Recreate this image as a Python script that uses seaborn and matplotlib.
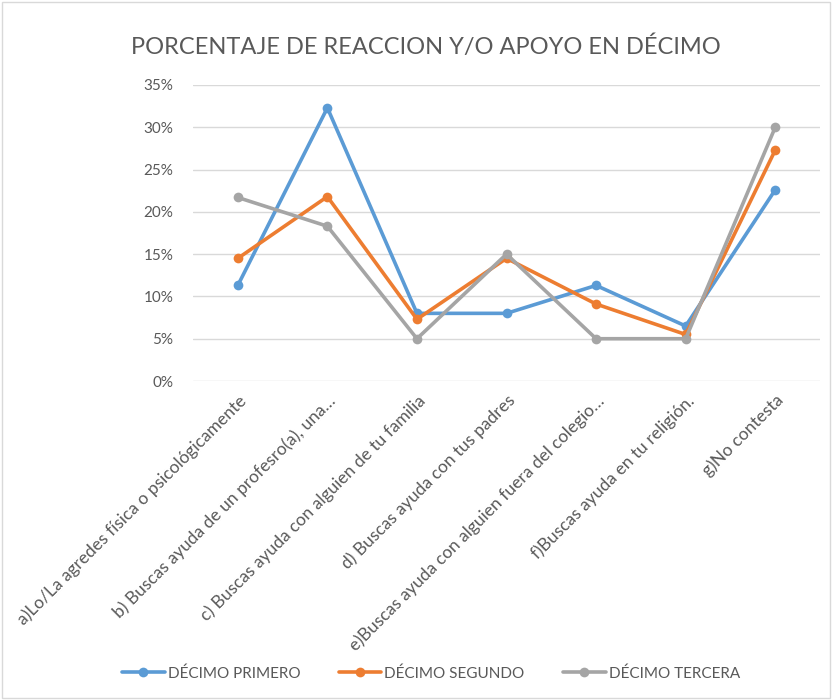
import pandas as pd
import matplotlib.pyplot as plt
import matplotlib.patches as mpatches
import seaborn as sns
from matplotlib.ticker import FuncFormatter

# Categories (x axis)
categories = [
    'a)Lo/La agredes física o psicológicamente',
    'b) Buscas ayuda de un profesro(a), una…',
    'c) Buscas ayuda con alguien de tu familia',
    'd) Buscas ayuda con tus padres',
    'e)Buscas ayuda con alguien fuera del colegio…',
    'f)Buscas ayuda en tu religión.',
    'g)No contesta',
]

# Series values (fractions)
decimo_primero = [0.113, 0.323, 0.080, 0.080, 0.113, 0.065, 0.226]
decimo_segundo = [0.145, 0.218, 0.073, 0.145, 0.091, 0.055, 0.273]
decimo_tercera = [0.217, 0.183, 0.050, 0.150, 0.050, 0.050, 0.300]

series_names = ['DÉCIMO PRIMERO', 'DÉCIMO SEGUNDO', 'DÉCIMO TERCERA']
colors = ['#5B9BD5', '#ED7D31', '#A5A5A5']

rows = []
for name, vals in zip(series_names, [decimo_primero, decimo_segundo, decimo_tercera]):
    for cat, v in zip(categories, vals):
        rows.append({'categoria': cat, 'valor': v, 'serie': name})
df = pd.DataFrame(rows)

sns.set_style('white')
plt.rcParams['font.family'] = ['Lato', 'DejaVu Sans']
text_color = '#595959'

fig = plt.figure(figsize=(8.32, 7), dpi=100)
ax = fig.add_axes([0.232, 0.4557, 0.7536, 0.4229])

sns.lineplot(data=df, x='categoria', y='valor', hue='serie',
             palette=colors, marker='o', markersize=7, markeredgewidth=0,
             linewidth=2.6, sort=False, ax=ax, legend=True)

ax.set_xlim(-0.5, len(categories) - 0.5)
ax.set_ylim(0, 0.35)
ax.set_yticks([i * 0.05 for i in range(8)])
ax.yaxis.set_major_formatter(FuncFormatter(lambda v, p: f'{v * 100:.0f}%'))
ax.grid(axis='y', color='#D9D9D9', linewidth=1)
ax.set_axisbelow(True)
for s in ax.spines.values():
    s.set_visible(False)
ax.set_xlabel('')
ax.set_ylabel('')
ax.tick_params(axis='y', labelsize=11, colors=text_color, length=0, pad=14)
ax.tick_params(axis='x', length=0, pad=8)
ax.set_xticks(range(len(categories)))
ax.set_xticklabels(categories, rotation=45, ha='right', rotation_mode='anchor',
                   fontsize=12.5, color=text_color)

ax.set_title('PORCENTAJE DE REACCION Y/O APOYO EN DÉCIMO', fontsize=17,
             color=text_color, pad=22, x=0.372)

handles, labels = ax.get_legend_handles_labels()
ax.get_legend().remove()
fig.legend(handles, labels, loc='center', bbox_to_anchor=(0.518, 0.038), ncol=3,
           frameon=False, fontsize=11, labelcolor=text_color,
           handlelength=2.8, handletextpad=0.2, columnspacing=2.5)

fig.patches.append(mpatches.Rectangle((0.003, 0.003), 0.994, 0.994,
                                      transform=fig.transFigure, fill=False,
                                      edgecolor='#D9D9D9', linewidth=1))

fig.savefig('out.png', dpi=100)
